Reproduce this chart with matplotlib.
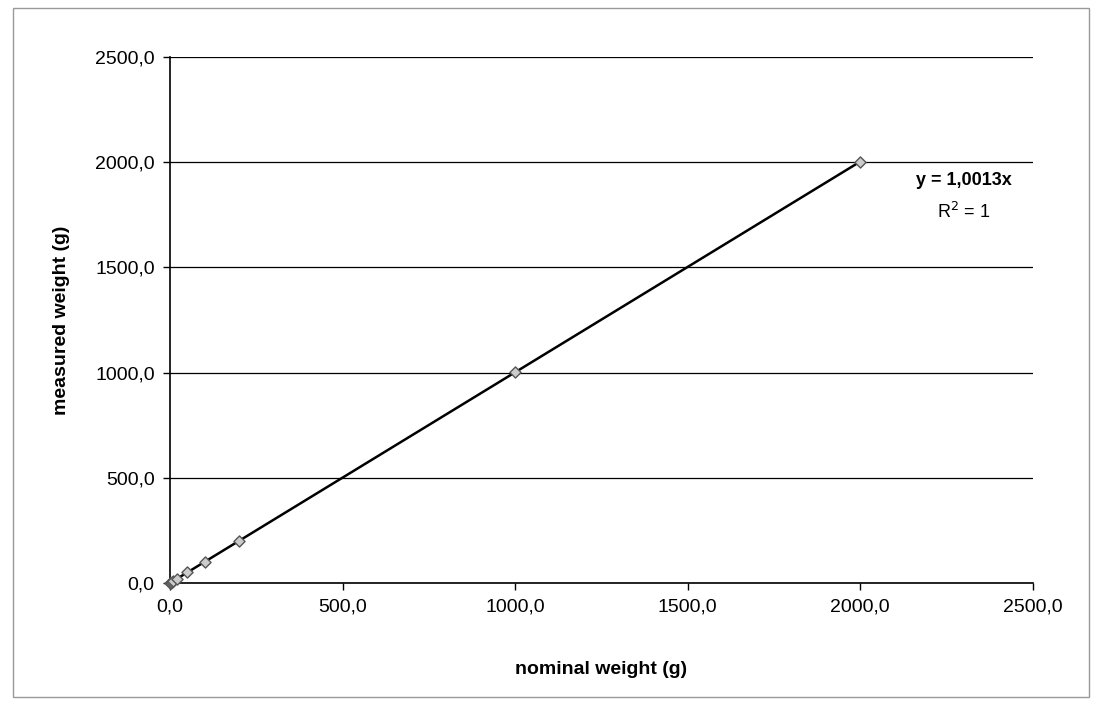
#!/usr/bin/env python3
"""
calibration plot - nominal vs measured weight
"""

import numpy as np
import matplotlib
matplotlib.use('Agg')
import matplotlib.pyplot as plt
from matplotlib.ticker import FuncFormatter
from matplotlib.patches import Rectangle

plt.rcParams['font.family'] = ['Liberation Sans', 'DejaVu Sans']

# data
nominal = [1.0, 2.0, 5.0, 10.0, 20.0, 50.0, 100.0, 200.0, 1000.0, 2000.0]
measured = [1.0, 2.0, 5.0, 10.0, 20.0, 50.1, 100.1, 200.3, 1001.3, 2002.6]
ticks = [0, 500, 1000, 1500, 2000, 2500]

x = np.array(nominal)
y = np.array(measured)
# trendline through origin
slope = np.sum(x * y) / np.sum(x * x)

fig = plt.figure(figsize=(10.94, 7.03), dpi=100)
ax = fig.add_axes([0.1554, 0.1707, 0.7886, 0.7483])

# outer chart border
fig.patches.append(Rectangle((0.012, 0.009), 0.983, 0.980, transform=fig.transFigure,
	fill=False, edgecolor='#999999', linewidth=1.0))

ax.set_xlim(0, 2500)
ax.set_ylim(0, 2500)
ax.set_xticks(ticks)
ax.set_yticks(ticks)
fmt = FuncFormatter(lambda v, p: ('%.1f' % v).replace('.', ','))
ax.xaxis.set_major_formatter(fmt)
ax.yaxis.set_major_formatter(fmt)

ax.grid(axis='y', color='black', linewidth=0.9)
ax.set_axisbelow(True)
for s in ['top', 'right']:
	ax.spines[s].set_visible(False)
for s in ['left', 'bottom']:
	ax.spines[s].set_linewidth(1.2)
ax.tick_params(direction='out', length=5, width=1, labelsize=14, pad=6)

xx = np.array([0, x.max()])
ax.plot(xx, slope * xx, color='black', linewidth=1.8, zorder=3)
ax.scatter(x, y, marker='D', s=32, facecolor='#cccccc', edgecolor='#555555',
	linewidth=1.0, zorder=4, clip_on=False)

ax.text(2300, 1911, 'y = %s' % ('%.4fx' % slope).replace('.', ','), fontsize=13,
	fontweight='bold', ha='center', va='center')
ax.text(2300, 1763, 'R$^2$ = 1', fontsize=13, ha='center', va='center')

ax.set_xlabel('nominal weight (g)', fontsize=14, fontweight='bold', labelpad=33)
ax.set_ylabel('measured weight (g)', fontsize=14, fontweight='bold', labelpad=18)

fig.savefig('out.png', dpi=100)
print('EOF')
